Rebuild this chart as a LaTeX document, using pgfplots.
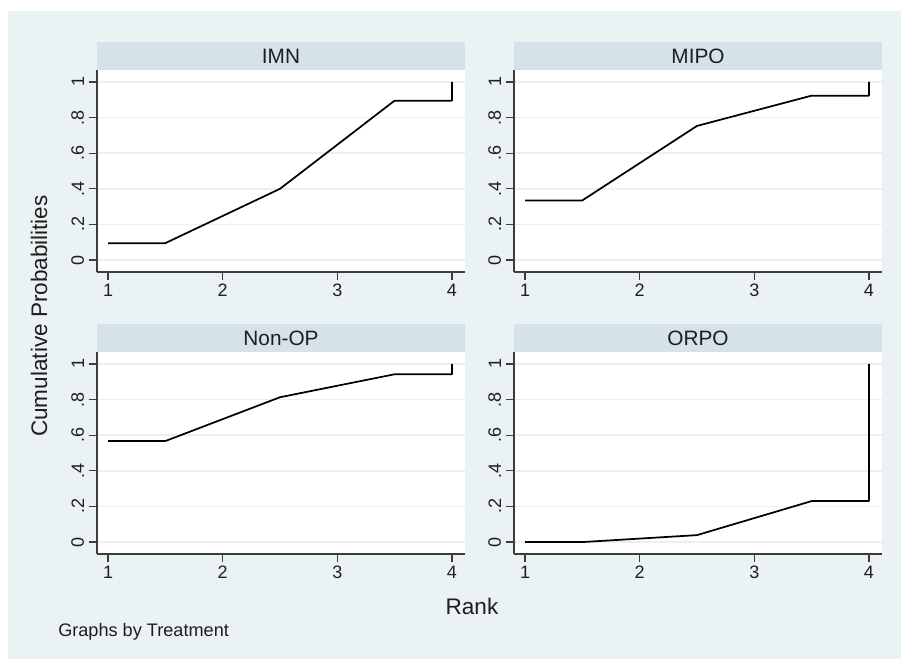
\documentclass[border=0pt]{standalone}
\usepackage{pgfplots}
\pgfplotsset{compat=1.18}
\usepackage{fontspec}
\setmainfont{Liberation Sans}
\definecolor{bgcol}{RGB}{234,242,243}
\definecolor{stripcol}{RGB}{214,226,233}
\definecolor{gridcol}{RGB}{234,240,242}
\definecolor{axcol}{RGB}{60,60,60}
\definecolor{txtcol}{RGB}{30,30,30}
\pgfplotsset{
  panel/.style={
    scale only axis,
    width=276pt, height=151.5pt,
    xmin=0.904, xmax=4.114,
    ymin=-0.067, ymax=1.067,
    xtick={1,2,3,4}, xticklabels={1,2,3,4},
    ytick={0,0.2,0.4,0.6,0.8,1}, yticklabels={0,.2,.4,.6,.8,1},
    axis x line*=bottom, axis y line*=left,
    axis line style={-, draw=axcol, line width=1.1pt},
    tick style={draw=axcol, line width=1pt},
    tick align=outside, major tick length=6pt,
    ymajorgrids, grid style={draw=gridcol, line width=1.1pt},
    axis background/.style={fill=white},
    tick label style={font=\fontsize{13.5}{15}\selectfont, text=txtcol},
    yticklabel style={rotate=90, anchor=south, inner sep=3.5pt},
    xticklabel style={inner sep=3pt},
    clip=false,
  },
  strip/.style={
    /pgfplots/extra description/.append code={
      \fill[stripcol] (axis description cs:0,1) rectangle (axis description cs:1,1.1386);
      \node[font=\fontsize{15.6}{18}\selectfont, text=txtcol] at (axis description cs:0.5,1.0693) {#1};
    }
  },
  curve/.style={black, line width=1.3pt, line join=round, mark=none}
}
\begin{document}
\begin{tikzpicture}
\fill[white] (0,0) rectangle (675.75pt,496.5pt);
\fill[bgcol] (6pt,2.25pt) rectangle (675.75pt,488.25pt);

\begin{axis}[panel, strip={IMN}, at={(72.75pt,292.5pt)}, anchor=south west]
\addplot[curve] table {
x y
1 0.095
1.5 0.095
2.5 0.400
3.5 0.895
4 0.895
4 1
};
\end{axis}

\begin{axis}[panel, strip={MIPO}, at={(385.5pt,292.5pt)}, anchor=south west]
\addplot[curve] table {
x y
1 0.335
1.5 0.335
2.5 0.753
3.5 0.923
4 0.923
4 1
};
\end{axis}

\begin{axis}[panel, strip={Non-OP}, at={(72.75pt,81pt)}, anchor=south west]
\addplot[curve] table {
x y
1 0.567
1.5 0.567
2.5 0.813
3.5 0.942
4 0.942
4 1
};
\end{axis}

\begin{axis}[panel, strip={ORPO}, at={(385.5pt,81pt)}, anchor=south west]
\addplot[curve] table {
x y
1 0.0
1.5 0.0
2.5 0.039
3.5 0.230
4 0.230
4 1
};
\end{axis}

\node[rotate=90, font=\fontsize{16.9}{20}\selectfont, text=txtcol] at (29.25pt,259.5pt) {Cumulative Probabilities};
\node[font=\fontsize{16.9}{20}\selectfont, text=txtcol] at (354pt,42pt) {Rank};
\node[anchor=west, inner sep=0pt, font=\fontsize{13.6}{16}\selectfont, text=txtcol] at (43.5pt,22.5pt) {Graphs by Treatment};
\end{tikzpicture}
\end{document}
